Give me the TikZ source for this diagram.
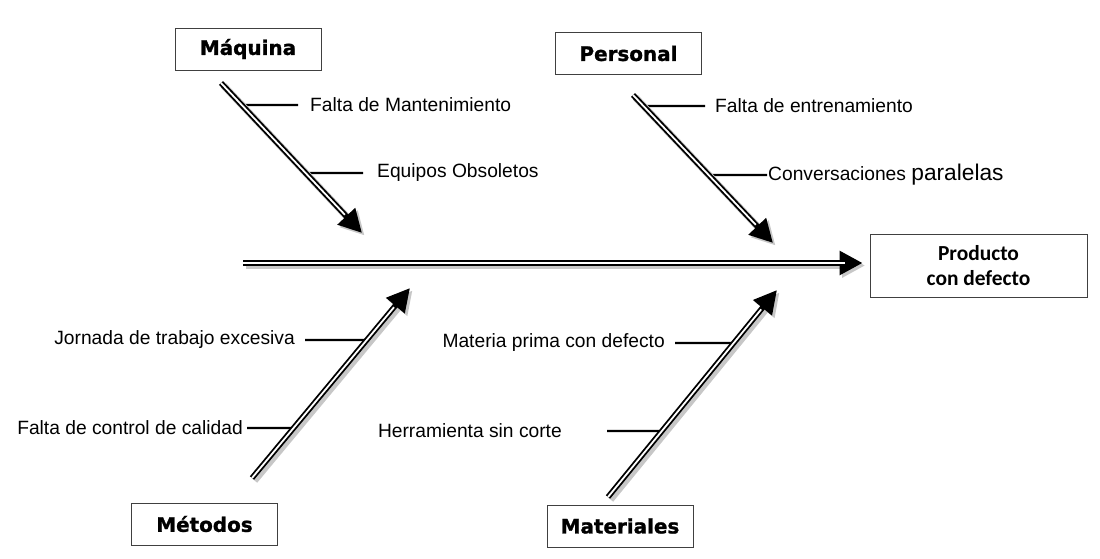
\documentclass[tikz,border=0pt]{standalone}
\usepackage{fontspec}
\setmainfont{Liberation Sans}
\newfontfamily\headfont{DejaVu Sans Bold}[FakeBold=1.3]
\newfontfamily\prodfont{Carlito}
\usetikzlibrary{arrows.meta}
\usetikzlibrary{positioning}
\tikzset{catbox/.style={draw=black!75, line width=0.8bp, fill=white, minimum width=146bp, minimum height=42bp, font=\headfont\fontsize{20}{24}\selectfont}}
\tikzset{cause/.style={inner sep=0pt, font=\fontsize{19.3}{23}\selectfont}}
\tikzset{bone/.style={draw, line width=5.5bp, -{Triangle[length=23bp,width=23bp]},
  preaction={draw=black!22, line width=7bp, transform canvas={shift={(2.5,2.5)}}},
  postaction={draw=white, line width=1.8bp, -, shorten >=25bp}}}
\tikzset{tick/.style={draw, line width=2.4bp}}

\begin{document}
\begin{tikzpicture}[x=1bp,y=-1bp]
\useasboundingbox (0,0) rectangle (1100,559);
% categories
\node[catbox] (maq) at (248,49) {Máquina};
\node[catbox] (per) at (628.5,53.5) {Personal};
\node[catbox] (met) at (204.5,524) {Métodos};
\node[catbox] (mat) at (620,526) {Materiales};
\node[draw=black!75, line width=0.8bp, minimum width=217bp, minimum height=63bp, align=center, font=\prodfont\bfseries\fontsize{21.5}{25}\selectfont] (prod) at (978.5,265.5) {Producto\\con defecto};
% bone ends
\coordinate (m1) at (221,83);  \coordinate (m2) at (362,233);
\coordinate (p1) at (633,95);  \coordinate (p2) at (773,243);
\coordinate (e1) at (252,478); \coordinate (e2) at (410,288);
\coordinate (a1) at (608,497); \coordinate (a2) at (777,290);
\coordinate (s1) at (243,263);
% causes
\coordinate (t1) at (298,105);
\node[cause, right=12bp of t1] (c1) {Falta de Mantenimiento};
\coordinate (t2) at (363,173);
\node[cause, right=14bp of t2] (c2) {Equipos Obsoletos};
\coordinate (t3) at (705,106);
\node[cause, right=10bp of t3] (c3) {Falta de entrenamiento};
\coordinate (t4) at (767,175);
\node[cause, right=1bp of t4] (c4) {Conversaciones {\fontsize{22.8}{26}\selectfont paralelas}};
\coordinate (t5) at (305,340);
\node[cause, left=10bp of t5] (c5) {Jornada de trabajo excesiva};
\coordinate (t6) at (247,428);
\node[cause, left=4bp of t6] (c6) {Falta de control de calidad};
\coordinate (t7) at (675,343);
\node[cause, left=10bp of t7] (c7) {Materia prima con defecto};
\coordinate (t8) at (607,431);
\node[cause, left=45bp of t8] (c8) {Herramienta sin corte};
% ticks
\draw[tick] (t1) -- (intersection of m1--m2 and t1--c1.west);
\draw[tick] (t2) -- (intersection of m1--m2 and t2--c2.west);
\draw[tick] (t3) -- (intersection of p1--p2 and t3--c3.west);
\draw[tick] (t4) -- (intersection of p1--p2 and t4--c4.west);
\draw[tick] (t5) -- (intersection of e1--e2 and t5--c5.east);
\draw[tick] (t6) -- (intersection of e1--e2 and t6--c6.east);
\draw[tick] (t7) -- (intersection of a1--a2 and t7--c7.east);
\draw[tick] (t8) -- (intersection of a1--a2 and t8--c8.east);
% bones
\path[bone] (m1) -- (m2);
\path[bone] (p1) -- (p2);
\path[bone] (e1) -- (e2);
\path[bone] (a1) -- (a2);
\path[bone, shorten >=7bp] (s1) -- (s1 -| prod.west);
\end{tikzpicture}
\end{document}
